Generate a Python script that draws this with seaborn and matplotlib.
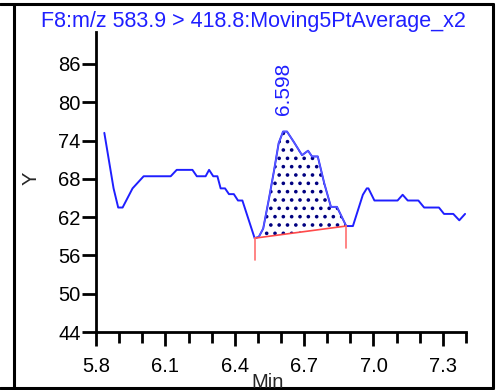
import numpy as np
import pandas as pd
import matplotlib
matplotlib.use("Agg")
import matplotlib.pyplot as plt
import seaborn as sns
from matplotlib.lines import Line2D

# Smoothed SRM trace (retention time in minutes, response)
time_min = [5.836, 5.876, 5.896, 5.915, 5.958, 6.006, 6.123, 6.149, 6.217, 6.236,
            6.274, 6.289, 6.307, 6.325, 6.339, 6.358, 6.375, 6.396, 6.414, 6.433,
            6.486, 6.504, 6.523, 6.547, 6.569, 6.590, 6.609, 6.626, 6.655, 6.691,
            6.717, 6.734, 6.759, 6.787, 6.816, 6.842, 6.882, 6.911, 6.954, 6.971,
            6.978, 7.004, 7.104, 7.126, 7.148, 7.194, 7.219, 7.283, 7.305, 7.345,
            7.371, 7.396]
response = [75.2, 66.5, 63.5, 63.5, 66.5, 68.4, 68.4, 69.4, 69.4, 68.4,
            68.4, 69.4, 68.4, 68.4, 66.5, 66.5, 65.6, 65.6, 64.6, 64.6,
            58.7, 58.9, 60.2, 64.7, 69.1, 73.6, 75.4, 75.4, 73.8, 71.7,
            72.4, 71.5, 71.5, 67.3, 63.6, 63.6, 60.6, 60.6, 65.5, 66.5,
            66.5, 64.6, 64.6, 65.5, 64.6, 64.6, 63.5, 63.5, 62.5, 62.5,
            61.5, 62.5]

# Integrated peak: start/end retention times, baseline levels, apex label
peak_start, peak_end = 6.486, 6.882
base_start, base_end = 58.7, 60.6
marker_drop = 3.4
apex_rt = 6.598
apex_label = "6.598"

title = "F8:m/z 583.9 > 418.8:Moving5PtAverage_x2"
y_ticks = [44, 50, 56, 62, 68, 74, 80, 86]
x_ticks = [5.8, 6.1, 6.4, 6.7, 7.0, 7.3]
x_minor = [5.8 + 0.1 * i for i in range(17)]

sns.set_style("white")
plt.rcParams["font.family"] = ["Liberation Sans", "DejaVu Sans"]
plt.rcParams["hatch.linewidth"] = 1.4

fig = plt.figure(figsize=(4.97, 3.90), dpi=100)
ax = fig.add_axes([96 / 497, 1 - 332 / 390, 370 / 497, 300 / 390])

df = pd.DataFrame({"Min": time_min, "Y": response})
sns.lineplot(data=df, x="Min", y="Y", ax=ax, color="#1f1fff", linewidth=1.4,
             zorder=3)

# Peak area: trace points inside the window closed by the straight baseline
mask = [(t >= peak_start) and (t <= peak_end) for t in time_min]
pk_t = [t for t, m in zip(time_min, mask) if m]
pk_y = [y for y, m in zip(response, mask) if m]
poly_x = pk_t + [peak_end, peak_start]
poly_y = pk_y + [base_end, base_start]
ax.fill(poly_x, poly_y, facecolor="white", edgecolor="#000080", hatch="..",
        linewidth=0, zorder=2)
ax.plot(pk_t, pk_y, color="#5a5aff", linewidth=1.0, zorder=4)

# Baseline and start/end markers
ax.plot([peak_start, peak_end], [base_start, base_end], color="#ff4a4a",
        linewidth=1.2, zorder=5)
ax.plot([peak_start, peak_start], [base_start, base_start - marker_drop],
        color="#ff7070", linewidth=1.2, zorder=5)
ax.plot([peak_end, peak_end], [base_end, base_end - marker_drop],
        color="#ff7070", linewidth=1.2, zorder=5)

ax.text(apex_rt + 0.012, max(pk_y) + 2.6, apex_label, rotation=90,
        color="#1f1fff", fontsize=15, ha="center", va="bottom")

ax.set_xlim(5.8, 7.4)
ax.set_ylim(44, 91)
ax.set_yticks(y_ticks)
ax.set_yticklabels([str(v) for v in y_ticks])
ax.set_xticks(x_ticks)
ax.set_xticklabels([f"{v:.1f}" for v in x_ticks])
ax.set_xticks(x_minor, minor=True)
ax.tick_params(axis="both", which="major", direction="out", length=10,
               width=2, labelsize=14.5, color="black", labelcolor="black",
               bottom=True, left=True)
ax.tick_params(axis="x", which="major", pad=8)
ax.tick_params(axis="y", which="major", pad=1)
ax.tick_params(axis="x", which="minor", direction="out", length=8, width=2,
               color="black", bottom=True)
ax.set_xlabel("")
ax.set_ylabel("")
for side in ["top", "right"]:
    ax.spines[side].set_visible(False)
for side in ["left", "bottom"]:
    ax.spines[side].set_linewidth(2)
    ax.spines[side].set_color("black")

fig.text(31 / 497, 1 - 178 / 390, "Y", rotation=90, fontsize=14.5,
         ha="center", va="center")
fig.text(268 / 497, 1 - 382 / 390, "Min", fontsize=14.5, ha="center",
         va="center")
fig.text(253.5 / 497, 1 - 21 / 390, title, color="#1f1fff", fontsize=15.5,
         ha="center", va="center")

# Surrounding frame
W, H = 497.0, 390.0
frame = [([0, 493 / W], [1 - 3.5 / H] * 2), ([0, 493 / W], [1 - 388 / H] * 2),
         ([14 / W] * 2, [1 - 3.5 / H, 1 - 388 / H]),
         ([493 / W] * 2, [1 - 3.5 / H, 1 - 388 / H])]
for xs, ys in frame:
    fig.add_artist(Line2D(xs, ys, color="black", linewidth=2.2,
                          transform=fig.transFigure))

fig.savefig("out.png", dpi=100)
